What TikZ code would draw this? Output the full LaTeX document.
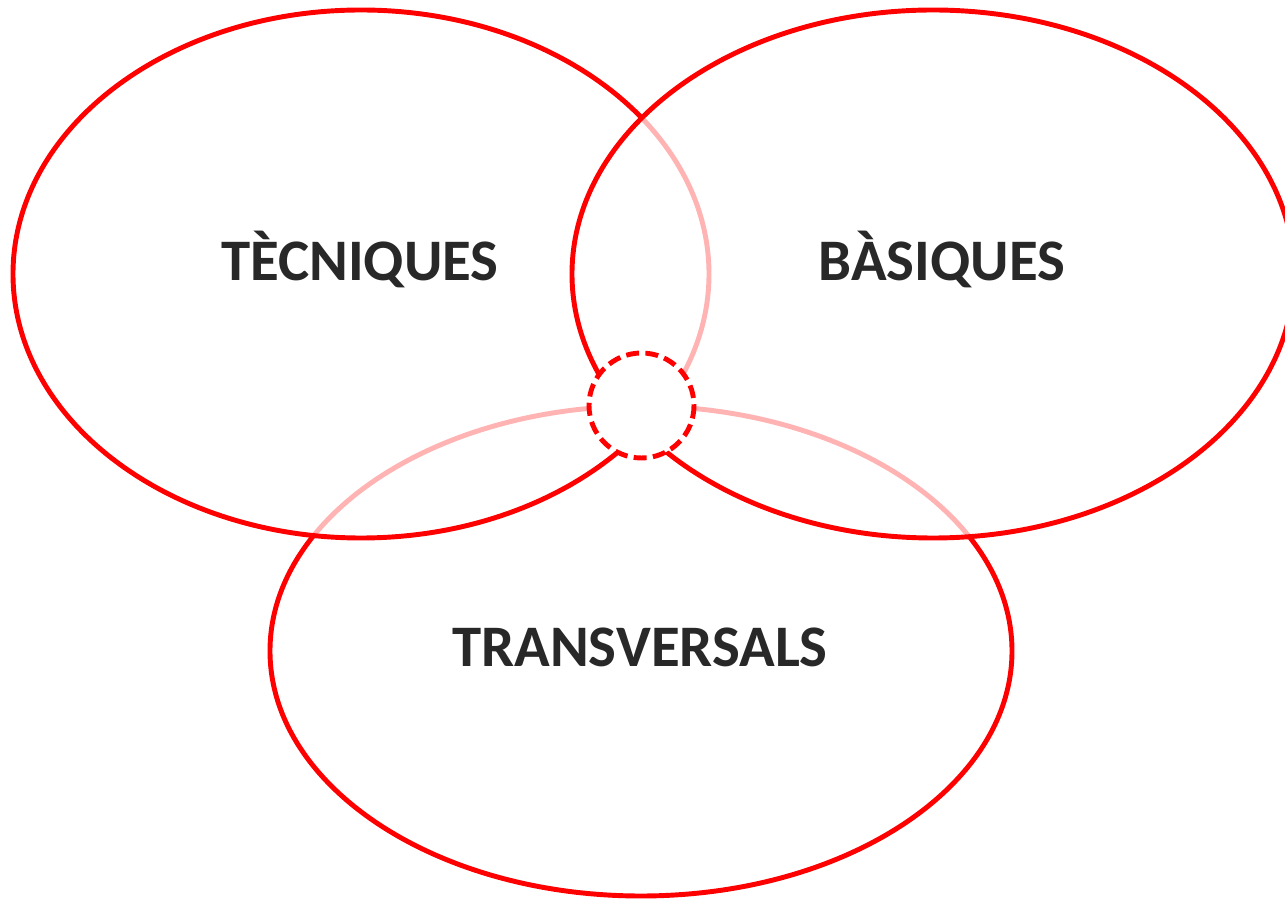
\documentclass[tikz,border=0pt]{standalone}
\usepackage{fontspec}
\setmainfont{Carlito}
\definecolor{vennred}{RGB}{255,0,0}
\definecolor{labelgray}{RGB}{40,40,40}
\tikzset{
	venn/.style={line width=2.8pt, draw=vennred, fill=white, fill opacity=0.7, draw opacity=1},
	core/.style={line width=2.8pt, draw=vennred, fill=white, dash pattern=on 7.4pt off 3.6pt},
	setlabel/.style={text=labelgray, font=\fontsize{33.5}{38}\selectfont\bfseries, inner sep=0pt}
}
\begin{document}
\begin{tikzpicture}[x=0.02cm,y=-0.02cm]
	\useasboundingbox (0,0) rectangle (1285,901);
	\clip (0,0) rectangle (1285,901);
	\coordinate (LeftC)   at (361,274);
	\coordinate (RightC)  at (933,274);
	\coordinate (BottomC) at (641,651);
	\coordinate (CoreC)   at (641.5,405.5);
	
	% the three sets, drawn bottom to top
	\draw [venn] (BottomC) ellipse [x radius=371, y radius=245];
	\draw [venn] (LeftC) ellipse [x radius=348, y radius=264];
	\draw [venn] (RightC) ellipse [x radius=361, y radius=264];
	
	% the common core
	\draw [core] (CoreC) circle [radius=52.5];
	
	\node[setlabel] (tecniques) at (360,259) {TÈCNIQUES};
	\node[setlabel] (basiques) at (942,259) {BÀSIQUES};
	\node[setlabel] (transversals) at (640,647) {TRANSVERSALS};
	
\end{tikzpicture}
\end{document}
